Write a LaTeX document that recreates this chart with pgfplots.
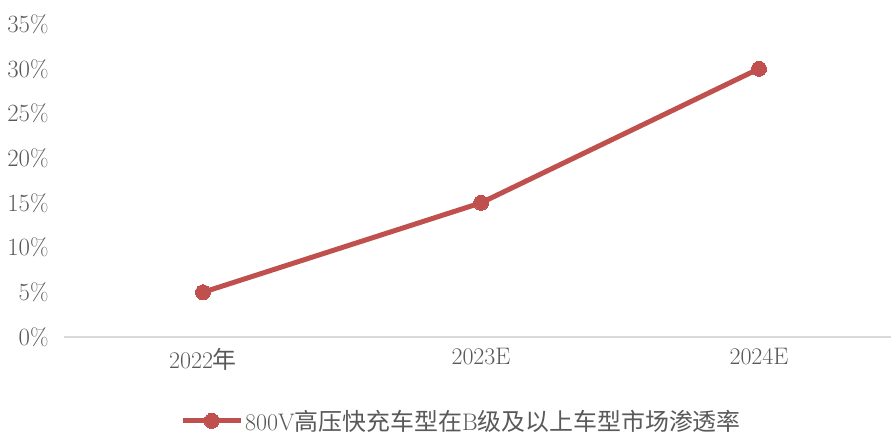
\documentclass[border=0pt]{standalone}
\usepackage{fontspec}
\usepackage{pgfplots}
\pgfplotsset{compat=1.18}
\newfontfamily\cjk{Noto Sans CJK SC}
\definecolor{lred}{RGB}{192,80,77}
\definecolor{tgray}{RGB}{89,89,89}
\definecolor{agray}{RGB}{217,217,217}
\begin{document}
\begin{tikzpicture}
\begin{axis}[
  at={(64bp,99bp)}, anchor=south west,
  scale only axis, width=834bp, height=313bp,
  xmin=-0.5, xmax=2.5, ymin=0, ymax=35,
  axis x line*=bottom, axis y line*=left,
  x axis line style={agray, line width=1.3bp, -},
  y axis line style={draw=none},
  xtick={0,1,2}, xticklabels={2022{\cjk 年},2023E,2024E},
  ytick={0,5,...,35},
  major tick length=0pt,
  tick label style={font=\fontsize{24}{27}\selectfont, text=tgray},
  yticklabel={\pgfmathprintnumber{\tick}\%},
  yticklabel style={anchor=east, xshift=-12bp},
  xticklabel style={yshift=-8bp},
  legend style={at={(0.4766,-0.268)}, anchor=center, draw=none, inner sep=0pt,
    font=\fontsize{24}{27}\selectfont, text=tgray},
  legend image code/.code={\draw[#1, mark repeat=2, mark phase=2] plot coordinates {(0bp,0bp) (29bp,0bp) (58bp,0bp)};},
  legend cell align=left,
]
\addplot[lred, line width=5bp, mark=*, mark size=7.5bp, mark options={fill=lred, draw=lred, line width=0pt}] coordinates {(0,5) (1,15) (2,30)};
\addlegendentry{800V{\cjk 高压快充车型在}B{\cjk 级及以上车型市场渗透率}}
\end{axis}
\pgfresetboundingbox
\path (0,0) rectangle (891bp,436bp);
\end{tikzpicture}
\end{document}
